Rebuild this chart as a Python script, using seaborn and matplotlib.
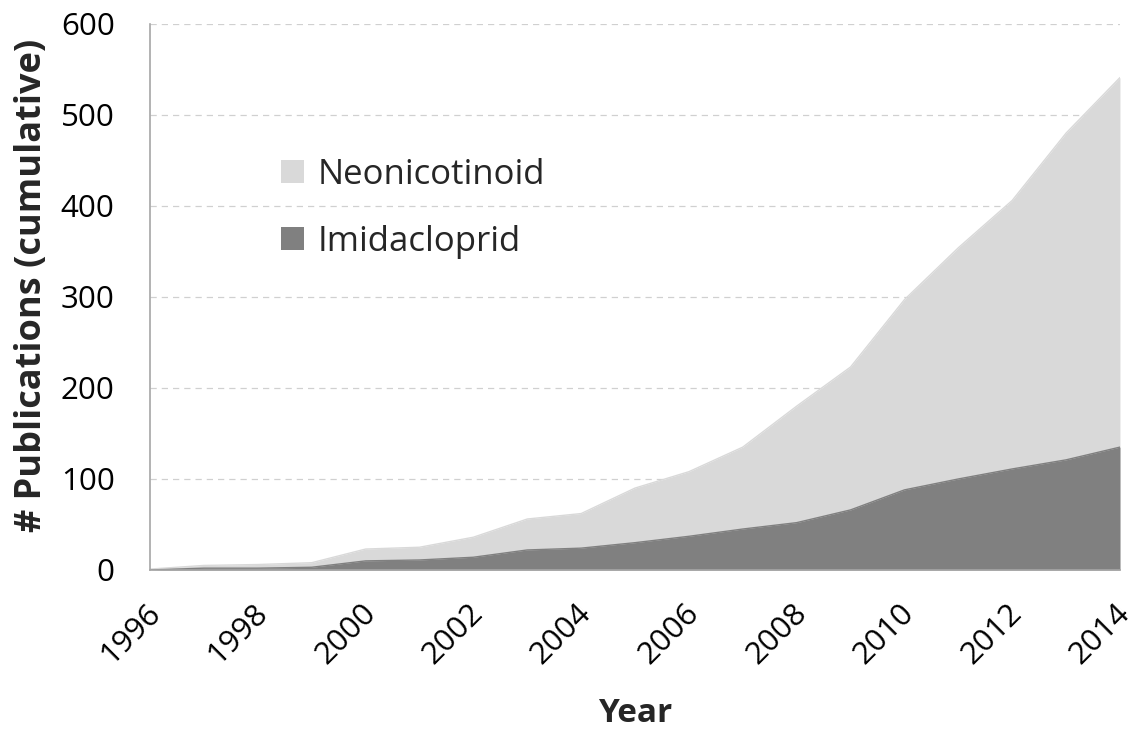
import numpy as np
import pandas as pd
import matplotlib
matplotlib.use("Agg")
import matplotlib.pyplot as plt
import matplotlib.transforms as mtransforms
import seaborn as sns
from matplotlib.patches import Patch

# -----------------------------
# DATA
# -----------------------------

years = list(range(1996, 2015))

neonicotinoid = [1, 5, 6, 8, 23, 25, 36, 56, 62, 90, 108, 135, 180, 223,
                 297, 354, 406, 480, 541]

imidacloprid = [0, 2, 2, 3, 10, 11, 14, 22, 24, 30, 37, 45, 52, 66,
                88, 100, 111, 121, 135]

series_names = ["Neonicotinoid", "Imidacloprid"]
series_colors = ["#d9d9d9", "#808080"]

y_ticks = [0, 100, 200, 300, 400, 500, 600]
x_ticks = list(range(1996, 2015, 2))

df = pd.DataFrame({
    "Year": years,
    "Neonicotinoid": neonicotinoid,
    "Imidacloprid": imidacloprid,
})

# -----------------------------
# STYLE
# -----------------------------

sns.set_theme(style="white")
plt.rcParams["font.family"] = ["Open Sans", "DejaVu Sans"]

fig = plt.figure(figsize=(11.37, 7.33), dpi=100)
ax = fig.add_axes([0.132, 0.2224, 0.853, 0.745])

# -----------------------------
# AREAS
# -----------------------------

for name, color in zip(series_names, series_colors):
    ax.fill_between(df["Year"], 0, df[name], color=color, linewidth=0, zorder=2)
    sns.lineplot(data=df, x="Year", y=name, color=color, linewidth=1,
                 ax=ax, zorder=2)

# -----------------------------
# AXES
# -----------------------------

ax.set_xlim(1996, 2014)
ax.set_ylim(0, 600)
ax.set_xticks(x_ticks)
ax.set_yticks(y_ticks)

ax.yaxis.grid(True, linestyle=(0, (5, 4)), color="#d0d0d0", linewidth=0.9)
ax.xaxis.grid(False)
ax.set_axisbelow(True)

for side in ["top", "right"]:
    ax.spines[side].set_visible(False)
for side in ["left", "bottom"]:
    ax.spines[side].set_color("#a6a6a6")
    ax.spines[side].set_linewidth(1.2)
    ax.spines[side].set_zorder(3)

ax.tick_params(axis="y", direction="out", length=8.5, width=1.2,
               color="#a6a6a6", labelsize=22.5, labelcolor="black", pad=17)
ax.tick_params(axis="x", direction="out", length=8, width=1.2,
               color="#a6a6a6", labelsize=22.5, labelcolor="black", pad=12)

# rotated year labels, nudged a little left so they end near the tick
shift = mtransforms.ScaledTranslation(-5 / 100, 0, fig.dpi_scale_trans)
for lbl in ax.get_xticklabels():
    lbl.set_rotation(45)
    lbl.set_ha("right")
    lbl.set_rotation_mode("anchor")
    lbl.set_transform(lbl.get_transform() + shift)

ax.set_xlabel("Year", fontsize=24, fontweight="bold")
ax.set_ylabel("# Publications (cumulative)", fontsize=26, fontweight="bold")
ax.xaxis.set_label_coords(0.5, -0.232)
ax.yaxis.set_label_coords(-0.103, 0.522)

# -----------------------------
# LEGEND
# -----------------------------

handles = [Patch(facecolor=c, edgecolor="none") for c in series_colors]
ax.legend(handles, series_names, loc="upper left",
          bbox_to_anchor=(0.135, 0.755), frameon=False, fontsize=25,
          borderpad=0, borderaxespad=0,
          handlelength=0.65, handleheight=0.65, handletextpad=0.4,
          labelspacing=0.95)

fig.savefig("out.png", dpi=100)
plt.close(fig)
